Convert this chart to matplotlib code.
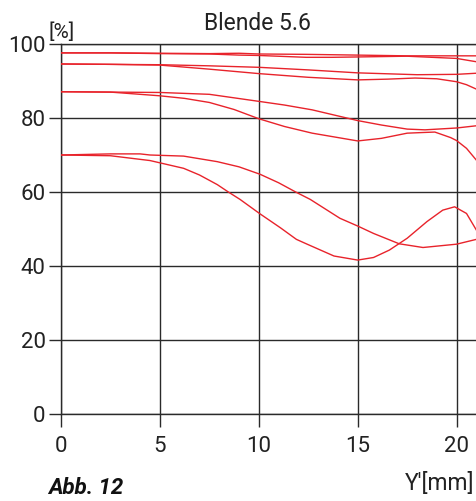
"""
MTF chart, Blende 5.6
"""

import matplotlib.pyplot as plt

plt.rcParams['font.family'] = ['Roboto', 'DejaVu Sans']

# image height Y' [mm] and contrast [%] for each curve (pairs start at the same value)
x_a1 = [0, 2.5, 5, 7.5, 9, 10, 12.4, 15, 17.5, 20, 21]
y_a1 = [97.6, 97.6, 97.5, 97.4, 97.5, 97.3, 97.2, 97.0, 96.8, 96.8, 96.8]
x_a2 = [0, 2.5, 5, 7.5, 9, 10, 12.4, 13.7, 15, 17.5, 20, 21]
y_a2 = [97.6, 97.6, 97.4, 97.3, 97.0, 96.9, 96.4, 96.4, 96.5, 96.7, 96.1, 95.2]

x_b1 = [0, 2.5, 5, 7.5, 10, 12.5, 15, 18, 20, 21]
y_b1 = [94.6, 94.5, 94.4, 94.1, 93.7, 93.0, 92.2, 91.7, 91.8, 92.1]
x_b2 = [0, 2.5, 5, 7.5, 10, 12.5, 15, 16.5, 17.9, 19, 20, 20.5, 21]
y_b2 = [94.6, 94.5, 94.3, 93.2, 92.0, 91.0, 90.3, 90.5, 90.8, 90.6, 89.8, 89.0, 87.8]

x_c1 = [0, 2.5, 5, 7.5, 10, 11.3, 12.7, 15, 16.2, 17.5, 18.4, 20, 21]
y_c1 = [87.1, 87.0, 86.9, 86.4, 84.5, 83.5, 82.2, 79.3, 78.1, 77.0, 76.8, 77.3, 77.9]
x_c2 = [0, 2.5, 5, 6.25, 7.5, 8.75, 10, 11.3, 12.7, 15, 16.2, 17.5, 18.4, 18.9, 19.7, 20, 20.5, 21]
y_c2 = [87.1, 87.0, 86.0, 85.3, 84.2, 82.3, 79.8, 77.7, 75.9, 73.8, 74.5, 75.9, 76.1, 76.2, 74.7, 73.9, 71.8, 68.6]

x_d1 = [0, 2.5, 4, 4.5, 6.2, 7.9, 9, 10.06, 11, 11.9, 12.6, 14.1, 15, 15.8, 17.1, 18.3, 20, 21]
y_d1 = [70.0, 70.3, 70.3, 70.0, 69.7, 68.2, 66.8, 64.8, 62.5, 59.9, 58.0, 52.9, 50.8, 48.8, 46.0, 45.0, 45.9, 47.2]
x_d2 = [0, 2.5, 4.5, 6.2, 7.0, 7.9, 8.46, 9.05, 10.06, 11.1, 11.9, 12.4, 13.8, 15, 15.8, 16.6, 17.5, 18.5, 19.3, 19.9, 20.5, 21]
y_d2 = [70.0, 69.8, 68.5, 66.4, 64.6, 62.0, 60.0, 58.0, 54.1, 50.3, 47.2, 46.0, 42.7, 41.6, 42.3, 44.3, 47.5, 52.0, 55.1, 56.0, 54.2, 49.7]

xticks = [0, 5, 10, 15, 20]
yticks = [0, 20, 40, 60, 80, 100]

curves = [
    (x_a1, y_a1), (x_a2, y_a2),
    (x_b1, y_b1), (x_b2, y_b2),
    (x_c1, y_c1), (x_c2, y_c2),
    (x_d1, y_d1), (x_d2, y_d2),
]

fig = plt.figure(figsize=(4.76, 5.01), dpi=100)
ax = fig.add_axes([61 / 476, 87 / 501, 415 / 476, 370 / 501])

grid_color = '#2a2a2a'
for x, y in curves:
    ax.plot(x, y, color='#e8232b', lw=1.0, zorder=3)

ax.set_xlim(0, 20.98)
ax.set_ylim(0, 100)
ax.set_xticks(xticks)
ax.set_yticks(yticks)
ax.grid(color=grid_color, lw=1.0)
for side in ['left', 'bottom', 'top']:
    ax.spines[side].set_color(grid_color)
    ax.spines[side].set_linewidth(1.0)
ax.spines['right'].set_visible(False)
ax.tick_params(direction='out', length=9, width=1.0, color=grid_color,
               labelsize=16, labelcolor='#222222')
ax.tick_params(axis='y', pad=2)
ax.tick_params(axis='x', pad=6.5)

fig.text(257 / 476, 1 - 30 / 501, 'Blende 5.6', ha='center', va='baseline',
         fontsize=16.5, color='#222222')
fig.text(48 / 476, 1 - 38 / 501, '[%]', ha='left', va='baseline',
         fontsize=15, color='#222222')
fig.text(48 / 476, 1 - 494 / 501, 'Abb. 12', ha='left', va='baseline',
         fontsize=16, fontweight='bold', fontstyle='italic', color='#111111')
fig.text(474 / 476, 1 - 490 / 501, "Y'[mm]", ha='right', va='baseline',
         fontsize=16.5, color='#222222')

fig.savefig('out.png', dpi=100)
